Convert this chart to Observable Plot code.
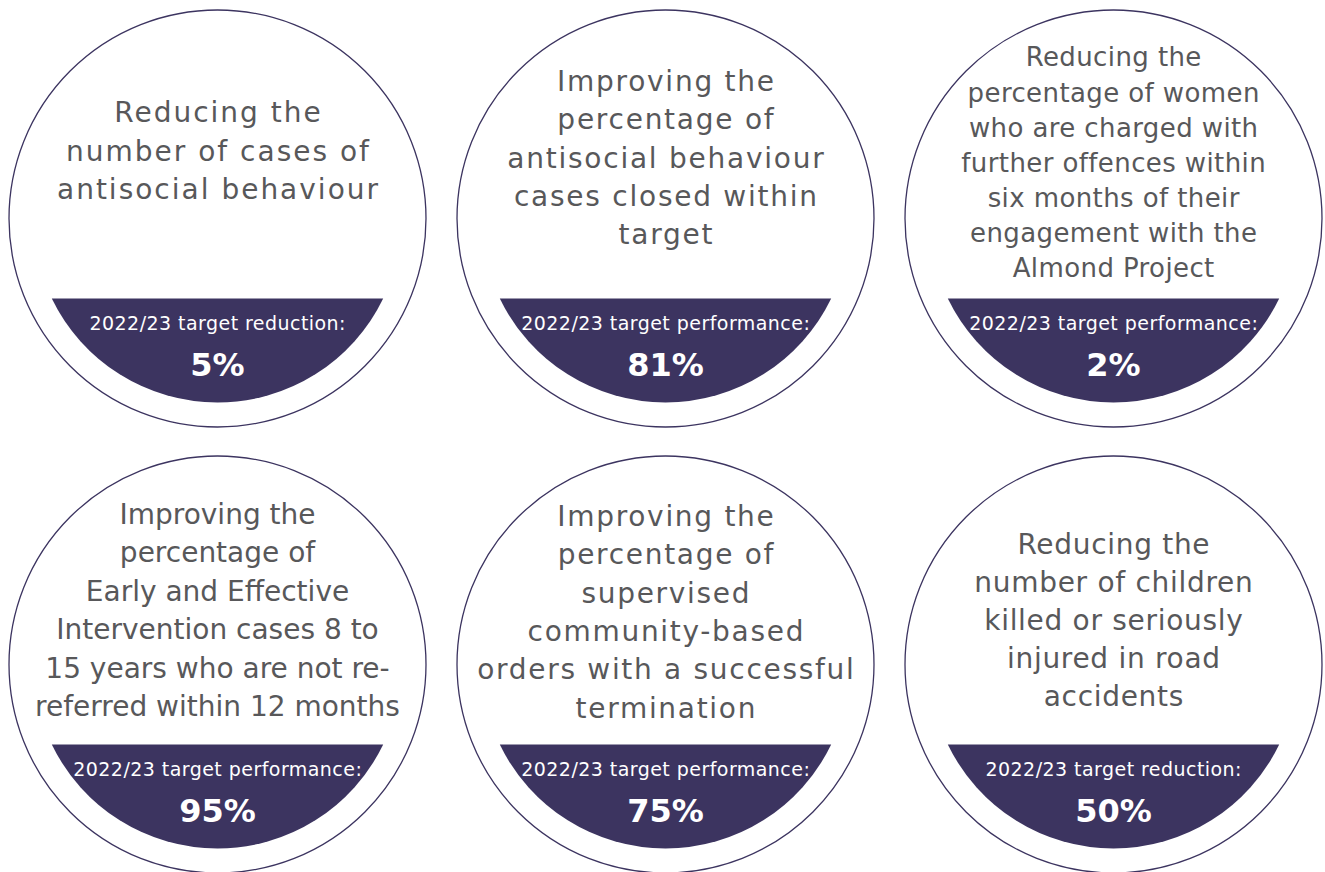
<!DOCTYPE html>
<html>
<head>
<meta charset="utf-8">
<script src="https://cdn.jsdelivr.net/npm/d3@7"></script>
<script src="https://cdn.jsdelivr.net/npm/@observablehq/plot@0.6"></script>
<style>
  html, body { margin: 0; padding: 0; background: #ffffff; }
  #chart { width: 1325px; height: 872px; }
  svg { font-family: "DejaVu Sans", sans-serif; }
</style>
</head>
<body>
<div id="chart"></div>
<script>
// ---- data ----
const titles = [
  "Reducing the\nnumber of cases of\nantisocial behaviour",
  "Improving the\npercentage of\nantisocial behaviour\ncases closed within\ntarget",
  "Reducing the\npercentage of women\nwho are charged with\nfurther offences within\nsix months of their\nengagement with the\nAlmond Project",
  "Improving the\npercentage of\nEarly and Effective\nIntervention cases 8 to\n15 years who are not re-\nreferred within 12 months",
  "Improving the\npercentage of\nsupervised\ncommunity-based\norders with a successful\ntermination",
  "Reducing the\nnumber of children\nkilled or seriously\ninjured in road\naccidents"
];
const targetLabels = [
  "2022/23 target reduction:",
  "2022/23 target performance:",
  "2022/23 target performance:",
  "2022/23 target performance:",
  "2022/23 target performance:",
  "2022/23 target reduction:"
];
const targetValues = [5, 81, 2, 95, 75, 50];
const columns = [0, 1, 2, 0, 1, 2];
const rows = [0, 0, 0, 1, 1, 1];

// ---- layout / style (kept apart from the data) ----
const purple = "#3c3460";
const grey = "#58585a";
const titleOffset = [-70, -63, -58, -57, -55, -47];
const titleSize = [28, 28, 26, 28, 28, 28];
const titleLineHeight = [1.37, 1.37, 1.35, 1.375, 1.37, 1.36];
const titleTracking = [2.0, 1.75, 0.4, 0, 1.7, 0.7];
const labelTracking = 0.45;

const table = titles.map((t, i) => ({
  title: t,
  label: targetLabels[i],
  value: targetValues[i],
  col: columns[i],
  row: rows[i]
}));

// circular segment below a chord, drawn as a dot symbol
const segmentSymbol = {
  draw(ctx, size) {
    const r = Math.sqrt(size / Math.PI);
    const h = r * 80 / 184;
    const a = Math.asin(h / r);
    ctx.moveTo(r * Math.cos(a), h);
    ctx.arc(0, 0, r, a, Math.PI - a);
    ctx.closePath();
  }
};

const titleMarks = table.map((d, i) => Plot.text([d], {
  x: "col", y: "row", text: "title",
  dx: titleTracking[i] / 2,
  dy: titleOffset[i],
  fontSize: titleSize[i],
  lineHeight: titleLineHeight[i],
  lineAnchor: "middle",
  fill: grey
}));

const chart = Plot.plot({
  width: 1325,
  height: 872,
  margin: 0,
  x: {type: "point", domain: [0, 1, 2], range: [216.5, 1113.5], padding: 0, axis: null},
  y: {type: "point", domain: [0, 1], range: [218, 664], padding: 0, axis: null},
  marks: [
    Plot.dot(table, {x: "col", y: "row", r: 184, symbol: segmentSymbol, fill: purple, stroke: "none"}),
    Plot.dot(table, {x: "col", y: "row", r: 208.5, fill: "none", stroke: purple, strokeWidth: 1.3}),
    ...titleMarks,
    Plot.text(table, {x: "col", y: "row", text: "label", dx: labelTracking / 2, dy: 105, fontSize: 19, fill: "white", lineAnchor: "middle"}),
    Plot.text(table, {x: "col", y: "row", text: d => d.value + "%", dy: 147, fontSize: 32, fontWeight: "bold", fill: "white", lineAnchor: "middle"})
  ]
});

// apply letter-spacing to the text groups in mark order
const textGroups = d3.select(chart).selectAll('g[aria-label="text"]').nodes();
titleTracking.forEach((t, i) => {
  if (textGroups[i]) textGroups[i].style.letterSpacing = t + "px";
});
if (textGroups[titleTracking.length]) textGroups[titleTracking.length].style.letterSpacing = labelTracking + "px";

document.getElementById("chart").appendChild(chart);
</script>
</body>
</html>
